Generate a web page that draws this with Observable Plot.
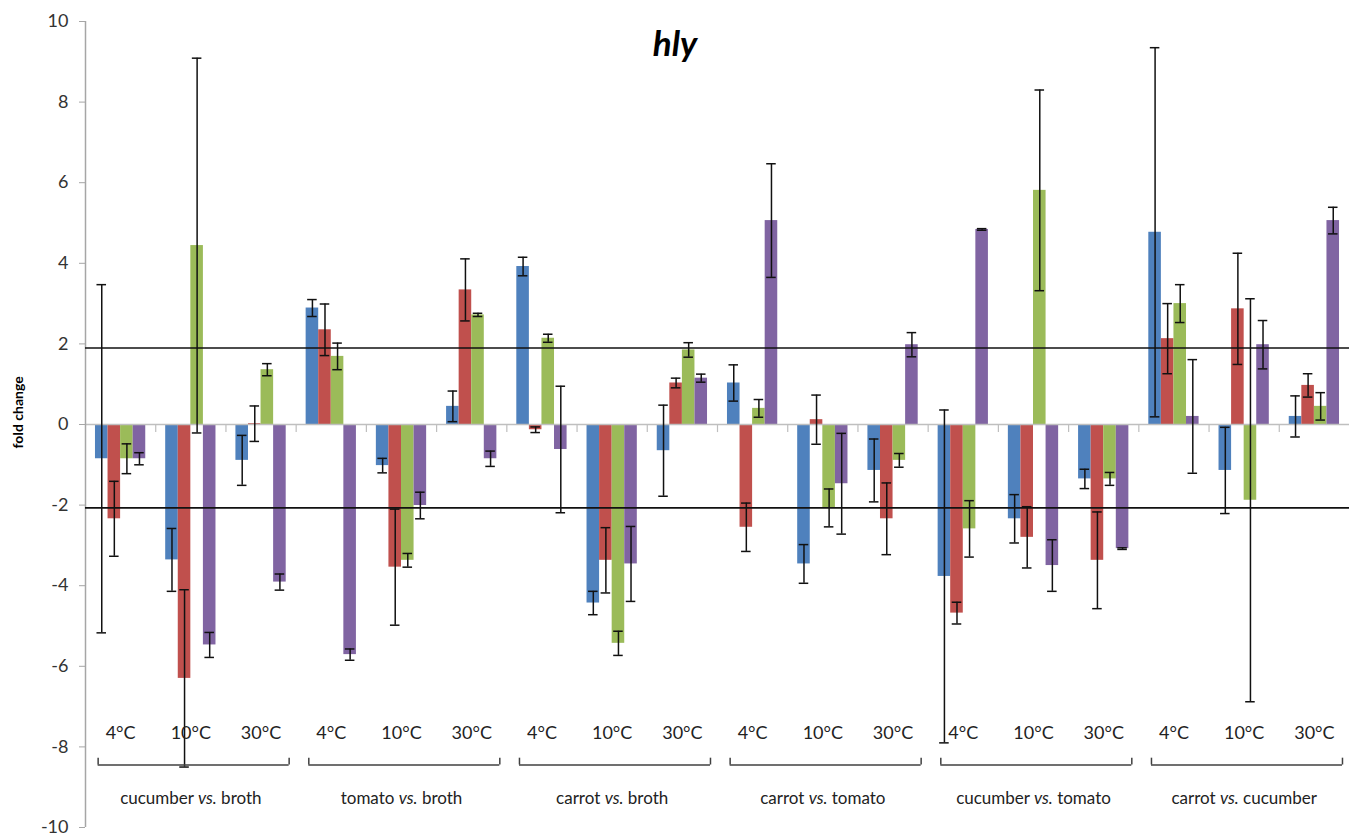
<!DOCTYPE html>
<html><head><meta charset="utf-8">
<script src="https://cdn.jsdelivr.net/npm/d3@7"></script>
<script src="https://cdn.jsdelivr.net/npm/@observablehq/plot@0.6"></script>
<style>
body{margin:0;background:#fff;}
#chart svg{display:block;}
#chart svg [aria-label^="y-axis"] path,
#chart svg [aria-label^="y-axis"] line{stroke:#a6a6a6;}
</style></head>
<body><div id="chart"></div>
<script>
// ---- data ----
const title = "hly";
const yLabel = "fold change";
const comparisons = ["cucumber vs. broth", "tomato vs. broth", "carrot vs. broth", "carrot vs. tomato", "cucumber vs. tomato", "carrot vs. cucumber"];
const temperatures = ["4°C", "10°C", "30°C"];
const seriesNames = ["Series 1", "Series 2", "Series 3", "Series 4"];
const seriesColors = ["#4F81BD", "#C0504D", "#9BBB59", "#8064A2"];

const s1Values = [-0.85, -3.36, -0.89, 2.89, -1.02, 0.45, 3.92, -4.43, -0.65, 1.03, -3.46, -1.14, -3.77, -2.34, -1.35, 4.77, -1.14, 0.20];
const s1Errors = [4.32, 0.78, 0.62, 0.21, 0.18, 0.38, 0.23, 0.29, 1.13, 0.45, 0.48, 0.78, 4.13, 0.60, 0.24, 4.58, 1.07, 0.51];
const s2Values = [-2.34, -6.30, 0.02, 2.35, -3.54, 3.34, -0.13, -3.37, 1.03, -2.55, 0.12, -2.34, -4.68, -2.80, -3.37, 2.13, 2.87, 0.97];
const s2Errors = [0.93, 2.20, 0.44, 0.64, 1.44, 0.77, 0.07, 0.81, 0.12, 0.60, 0.61, 0.89, 0.27, 0.76, 1.20, 0.87, 1.38, 0.29];
const s3Values = [-0.85, 4.44, 1.36, 1.69, -3.37, 2.72, 2.14, -5.43, 1.85, 0.40, -2.07, -0.89, -2.59, 5.81, -1.35, 3.00, -1.88, 0.45];
const s3Errors = [0.37, 4.65, 0.15, 0.33, 0.17, 0.04, 0.10, 0.30, 0.18, 0.22, 0.47, 0.17, 0.70, 2.49, 0.16, 0.47, 5.00, 0.34];
const s4Values = [-0.85, -5.47, -3.91, -5.71, -2.01, -0.85, -0.62, -3.46, 1.15, 5.06, -1.47, 1.98, 4.84, -3.50, -3.08, 0.20, 1.98, 5.06];
const s4Errors = [0.15, 0.31, 0.20, 0.14, 0.33, 0.19, 1.57, 0.93, 0.10, 1.41, 1.25, 0.30, 0.02, 0.64, 0.02, 1.41, 0.60, 0.33];

const thresholds = [1.9, -2.07];
const yTicks = [-10, -8, -6, -4, -2, 0, 2, 4, 6, 8, 10];

// ---- build tables ----
const allValues = [s1Values, s2Values, s3Values, s4Values];
const allErrors = [s1Errors, s2Errors, s3Errors, s4Errors];
const clusters = comparisons.flatMap((c, g) => temperatures.map((t, k) => ({comparison: c, temperature: t, index: g * 3 + k})));
const groups = comparisons.map((c, g) => ({comparison: c, g}));
const rows = [];
clusters.forEach(cl => allValues.forEach((vals, s) => rows.push({
  cluster: cl.index, s, series: seriesNames[s], value: vals[cl.index], error: allErrors[s][cl.index]
})));

// layout (in cluster units)
const barStart = 0.142, barW = 0.179, capHalf = 0.068;
const bx1 = d => d.cluster + barStart + d.s * barW;
const bxc = d => bx1(d) + barW / 2;
const bracketY = -8.45, bracketTop = -8.28, tempY = -7.65, groupY = -9.28;

const W = 1349, H = 837, ML = 85;

const chart = Plot.plot({
  width: W, height: H,
  marginLeft: ML, marginRight: 0, marginTop: 21, marginBottom: 10,
  style: {fontFamily: "Lato, 'Open Sans', sans-serif", fontSize: "18px", color: "#333", background: "#fff"},
  x: {domain: [0, 18], axis: null},
  y: {domain: [-10, 10], ticks: yTicks, tickSize: 6, tickPadding: 11, label: null, tickFormat: d => String(d)},
  color: {domain: seriesNames, range: seriesColors},
  marks: [
    Plot.rect(rows, {x1: bx1, x2: d => bx1(d) + barW, y1: () => 0, y2: "value", fill: "series"}),
    Plot.ruleY([0], {stroke: "#bfbfbf", strokeWidth: 1.5}),
    Plot.ruleX(d3.range(1, 18), {y1: () => 0, y2: () => -0.2, stroke: "#bfbfbf", strokeWidth: 1.2}),
    Plot.ruleX([0], {stroke: "#a6a6a6", strokeWidth: 1.5}),
    Plot.ruleY(thresholds, {stroke: "#111", strokeWidth: 1.6}),
    Plot.ruleX(rows, {x: bxc, y1: d => d.value - d.error, y2: d => d.value + d.error, stroke: "#111", strokeWidth: 1.5}),
    Plot.ruleY(rows, {y: d => d.value + d.error, x1: d => bxc(d) - capHalf, x2: d => bxc(d) + capHalf, stroke: "#111", strokeWidth: 1.5}),
    Plot.ruleY(rows, {y: d => d.value - d.error, x1: d => bxc(d) - capHalf, x2: d => bxc(d) + capHalf, stroke: "#111", strokeWidth: 1.5}),
    Plot.text(clusters, {x: d => d.index + 0.5, y: () => tempY, text: "temperature", fontSize: 18, fill: "#222"}),
    Plot.ruleY(groups, {y: () => bracketY, x1: d => d.g * 3 + 0.18, x2: d => d.g * 3 + 2.9, stroke: "#404040", strokeWidth: 1.5}),
    Plot.ruleX(groups, {x: d => d.g * 3 + 0.18, y1: () => bracketY, y2: () => bracketTop, stroke: "#404040", strokeWidth: 1.5}),
    Plot.ruleX(groups, {x: d => d.g * 3 + 2.9, y1: () => bracketY, y2: () => bracketTop, stroke: "#404040", strokeWidth: 1.5}),
    Plot.text(groups, {x: d => d.g * 3 + 1.5, y: () => groupY, text: "comparison", fontSize: 17, fill: "#222"}),
    Plot.text([title], {frameAnchor: "top-left", dx: W / 2 - ML, dy: 10, textAnchor: "middle", fontSize: 35, fontWeight: "bold", fontStyle: "italic", fill: "#000"}),
    Plot.text([yLabel], {x: () => 0, y: () => 0.3, dx: -67, rotate: -90, fontSize: 14, fontWeight: "bold", fill: "#000"})
  ]
});

// italicise "vs."
d3.select(chart).selectAll("text").each(function () {
  const t = this.textContent;
  if (t.includes(" vs. ")) {
    const [a, b] = t.split(" vs. ");
    const sel = d3.select(this);
    sel.text(null);
    sel.append("tspan").text(a + " ");
    sel.append("tspan").attr("font-style", "italic").text("vs.");
    sel.append("tspan").text(" " + b);
  }
});

document.getElementById("chart").appendChild(chart);
</script>
</body></html>
